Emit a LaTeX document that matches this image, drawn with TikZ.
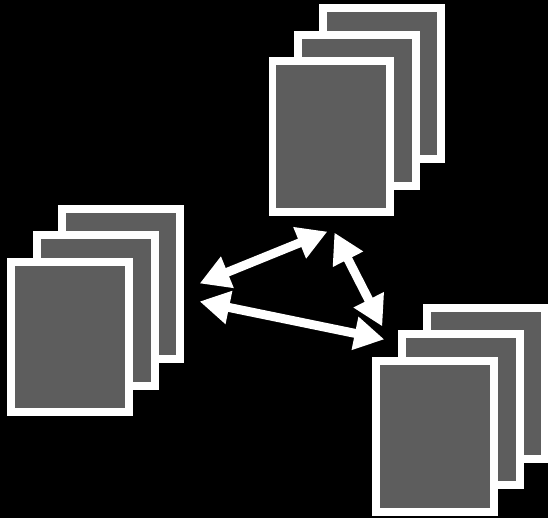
\documentclass[tikz,border=0pt]{standalone}
\usepackage{tikz}
\usetikzlibrary{arrows.meta, positioning}

\begin{document}
\begin{tikzpicture}[x=1pt, y=-1pt,
              page/.style = {shape=rectangle, draw=white, fill=pagegray,
                line width=8pt, inner sep=0pt,
                minimum width=118pt, minimum height=151pt},
              link/.style = {draw=white, line width=9pt,
                {Triangle[width=32pt,length=30pt]}-{Triangle[width=32pt,length=30pt]}}]
  \definecolor{pagegray}{RGB}{93,93,93}
  \fill[black] (0,0) rectangle (549,519);
  % left stack
  \node[page] (leftback)  at (121.5,284.5) {};
  \node[page] (leftmid)   at (96,311) {};
  \node[page] (leftfront) at (70,337.5) {};
  % top stack
  \node[page] (topback)  at (383,83.5) {};
  \node[page] (topmid)   at (357.5,110.5) {};
  \node[page] (topfront) at (332,137) {};
  % bottom right stack
  \node[page] (botback)  at (487,384) {};
  \node[page] (botmid)   at (461.5,410.5) {};
  \node[page] (botfront) at (436,437.5) {};
  % arrow ends
  \coordinate (lefta) at (200,284);
  \coordinate (leftb) at (200,302);
  \coordinate (topa)  at (328,232);
  \coordinate (topb)  at (335,233);
  \coordinate (bota)  at (385,340);
  \coordinate (botb)  at (383,327);
  \draw[link] (lefta) -- (topa);
  \draw[link] (leftb) -- (bota);
  \draw[link] (topb) -- (botb);
\end{tikzpicture}
\end{document}
